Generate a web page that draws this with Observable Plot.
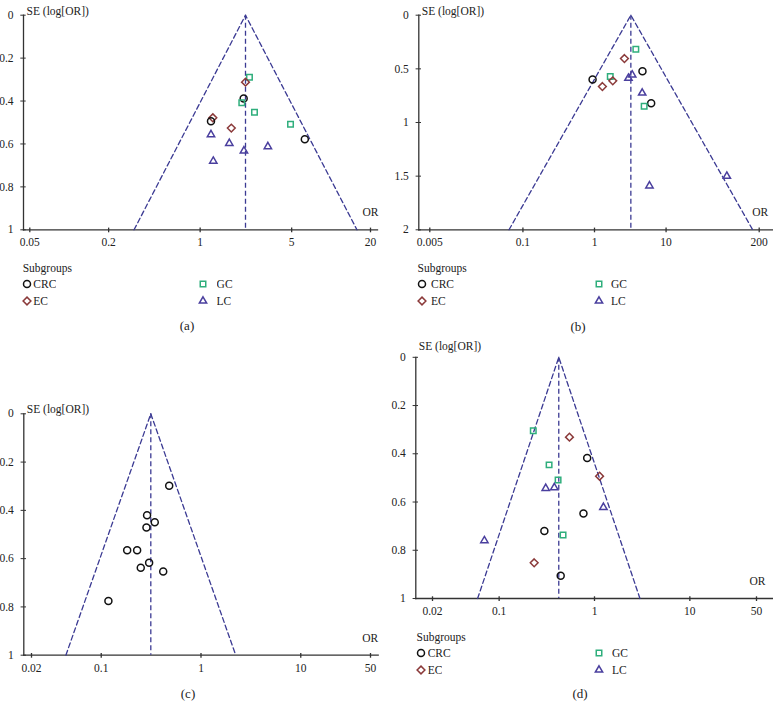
<!DOCTYPE html>
<html><head><meta charset="utf-8">
<script src="https://cdn.jsdelivr.net/npm/d3@7"></script>
<script src="https://cdn.jsdelivr.net/npm/@observablehq/plot@0.6"></script>
<style>
body{margin:0;background:#fff;}
#chart{position:relative;width:773px;height:713px;background:#fff;font-family:"Liberation Serif",serif;color:#222;overflow:hidden;}
.pos{position:absolute;}
.sub{font-size:11.5px;line-height:15px;white-space:nowrap;}
.cap{font-size:13px;line-height:15px;transform:translate(-50%,-50%);white-space:nowrap;}
.leg-swatches{font-family:"Liberation Serif",serif !important;font-size:11.5px !important;column-gap:0 !important;margin:0 !important;color:#222;}
.leg-swatch{height:17px;padding:0 !important;}
.leg-swatch > svg{margin-right:var(--m1) !important;}
.leg-swatch:nth-of-type(n+3) > svg{margin-right:var(--m2) !important;}
</style></head>
<body><div id="chart"></div>
<script>
// ---------- shared categories / styles ----------
const groups = ["CRC", "EC", "GC", "LC"];
const groupColors = ["#111111", "#8b3a3a", "#2fae7c", "#4a3f9e"];
const groupSymbols = ["circle", "diamond2", "square2", "triangle2"];
const legendTitle = "Subgroups";
const yLabelText = "SE (log[OR])";
const xLabelText = "OR";

// ---------- panel (a) ----------
const aGroup = ["GC","EC","CRC","GC","GC","EC","CRC","EC","GC","CRC","LC","LC","LC","LC","LC"];
const aOR    = [2.38, 2.22, 2.15, 2.08, 2.60, 1.25, 1.21, 1.73, 4.90, 6.30, 1.21, 1.67, 2.16, 3.29, 1.26];
const aSE    = [0.289,0.312,0.388,0.408,0.452,0.478,0.494,0.526,0.508,0.578,0.556,0.597,0.632,0.612,0.680];
const aPooled = 2.22;
const aSEMax = 1;
const aXTicks = [0.05, 0.2, 1, 5, 20];
const aXLabels = ["0.05", "0.2", "1", "5", "20"];
const aYTicks = [0, 0.2, 0.4, 0.6, 0.8, 1];
const aYLabels = ["0", "0.2", "0.4", "0.6", "0.8", "1"];

// ---------- panel (b) ----------
const bGroup = ["GC","EC","CRC","LC","LC","CRC","GC","EC","EC","LC","CRC","GC","LC","LC"];
const bOR    = [3.78, 2.62, 4.68, 3.36, 2.98, 0.94, 1.66, 1.80, 1.29, 4.64, 6.19, 4.94, 70.6, 5.86];
const bSE    = [0.317,0.404,0.522,0.556,0.587,0.600,0.571,0.612,0.665,0.725,0.820,0.848,1.50,1.59];
const bPooled = 3.22;
const bSEMax = 2;
const bXTicks = [0.005, 0.1, 1, 10, 200];
const bXLabels = ["0.005", "0.1", "1", "10", "200"];
const bYTicks = [0, 0.5, 1, 1.5, 2];
const bYLabels = ["0", "0.5", "1", "1.5", "2"];

// ---------- panel (c) ----------
const cGroup = ["CRC","CRC","CRC","CRC","CRC","CRC","CRC","CRC","CRC","CRC"];
const cOR    = [0.480, 0.288, 0.344, 0.284, 0.182, 0.229, 0.302, 0.249, 0.418, 0.118];
const cSE    = [0.298, 0.420, 0.449, 0.471, 0.565, 0.565, 0.617, 0.638, 0.653, 0.775];
const cPooled = 0.314;
const cSEMax = 1;
const cXTicks = [0.02, 0.1, 1, 10, 50];
const cXLabels = ["0.02", "0.1", "1", "10", "50"];
const cYTicks = [0, 0.2, 0.4, 0.6, 0.8, 1];
const cYLabels = ["0", "0.2", "0.4", "0.6", "0.8", "1"];

// ---------- panel (d) ----------
const dGroup = ["GC","EC","CRC","GC","EC","GC","LC","LC","LC","CRC","CRC","GC","LC","EC","CRC"];
const dOR    = [0.228, 0.546, 0.838, 0.334, 1.13, 0.415, 0.308, 0.379, 1.24, 0.766, 0.298, 0.468, 0.070, 0.233, 0.442];
const dSE    = [0.305, 0.331, 0.417, 0.446, 0.493, 0.509, 0.543, 0.540, 0.622, 0.648, 0.720, 0.737, 0.760, 0.852, 0.906];
const dPooled = 0.422;
const dSEMax = 1;
const dXTicks = [0.02, 0.1, 1, 10, 50];
const dXLabels = ["0.02", "0.1", "1", "10", "50"];
const dYTicks = [0, 0.2, 0.4, 0.6, 0.8, 1];
const dYLabels = ["0", "0.2", "0.4", "0.6", "0.8", "1"];

const captions = ["(a)", "(b)", "(c)", "(d)"];

// ---------- drawing ----------
const axisColor = "#333";
const funnelColor = "#3b3a93";
const font = "Liberation Serif, serif";

function panel(cfg) {
  const pts = cfg.or.map((v, i) => ({or: v, se: cfg.se[i], group: cfg.group[i]}));
  const funnel = [
    {or: cfg.pooled * Math.exp(-1.96 * cfg.seMax), se: cfg.seMax},
    {or: cfg.pooled, se: 0},
    {or: cfg.pooled * Math.exp(1.96 * cfg.seMax), se: cfg.seMax}
  ];
  const center = [{or: cfg.pooled, se1: 0, se2: cfg.seMax}];
  const xt = cfg.xTicks.map((v, i) => ({or: v, label: cfg.xLabels[i], se: cfg.seMax}));
  const yfmt = d => cfg.yLabels[cfg.yTicks.indexOf(d)];
  return Plot.plot({
    width: cfg.width, height: cfg.height,
    marginLeft: cfg.ml, marginRight: cfg.mr, marginTop: cfg.mt, marginBottom: cfg.mb,
    insetLeft: cfg.il, insetRight: cfg.ir,
    style: {fontFamily: font, fontSize: "11.5px", color: "#222", background: "transparent", overflow: "visible"},
    x: {type: "log", domain: cfg.xDomain, label: null, axis: null},
    y: {domain: [0, cfg.seMax], reverse: true, label: null},
    color: {domain: groups, range: groupColors},
    symbol: {domain: groups, range: groupSymbols},
    marks: [
      Plot.frame({anchor: "left", stroke: axisColor, strokeWidth: 1.3}),
      Plot.frame({anchor: "bottom", stroke: axisColor, strokeWidth: 1.3}),
      Plot.axisY({ticks: cfg.yTicks, tickSize: 5.4, dx: 2.7, tickFormat: () => "", stroke: axisColor, label: null}),
      Plot.axisY({ticks: cfg.yTicks, tickSize: 0, tickPadding: 10, tickFormat: yfmt, label: null}),
      // x-axis ticks and labels
      Plot.ruleX(xt, {x: "or", y1: "se", y2: "se", insetTop: -1.7, insetBottom: -3, stroke: axisColor, strokeWidth: 1.3}),
      Plot.text(xt, {x: "or", text: "label", frameAnchor: "bottom", lineAnchor: "top", dy: 8.5, fontSize: 11.5}),
      Plot.line(funnel, {x: "or", y: "se", stroke: funnelColor, strokeWidth: 1.3, strokeDasharray: "5,3"}),
      Plot.ruleX(center, {x: "or", y1: "se1", y2: "se2", stroke: funnelColor, strokeWidth: 1.3, strokeDasharray: "5,3"}),
      Plot.dot(pts, {x: "or", y: "se", stroke: "group", symbol: "group", r: 3.5, strokeWidth: 1.5}),
      Plot.text([yLabelText], {frameAnchor: "top-left", textAnchor: "start", dx: 3, dy: cfg.seDy, fontSize: 11.5}),
      Plot.text([xLabelText], {frameAnchor: "bottom-right", textAnchor: "end", dx: cfg.orDx, dy: -13.5, fontSize: 11.5})
    ]
  });
}

const chart = document.getElementById("chart");
function place(node, left, top) {
  node.style.position = "absolute";
  node.style.left = left + "px";
  node.style.top = top + "px";
  chart.appendChild(node);
  return node;
}
function addText(cls, text, left, top) {
  const d = document.createElement("div");
  d.className = "pos " + cls;
  d.textContent = text;
  d.style.left = left + "px";
  d.style.top = top + "px";
  chart.appendChild(d);
  return d;
}
function addLegend(plot, left, top, width, m1, m2) {
  addText("sub", legendTitle, left + 4, top);
  const leg = plot.legend("symbol", {columns: 2, width: width, swatchSize: 16, r: 3.5, strokeWidth: 1.5, className: "leg"});
  leg.style.setProperty("--m1", m1 + "px");
  leg.style.setProperty("--m2", m2 + "px");
  place(leg, left, top + 15);
}

const pA = panel({group: aGroup, or: aOR, se: aSE, pooled: aPooled, seMax: aSEMax, xDomain: [0.05, 20],
  xTicks: aXTicks, xLabels: aXLabels, yTicks: aYTicks, yLabels: aYLabels,
  width: 386, height: 252, ml: 23, mr: 9, mt: 14.7, mb: 22.7, il: 6.3, ir: 7, seDy: -8.5, orDx: 1});
place(pA, 0, 0);
const pB = panel({group: bGroup, or: bOR, se: bSE, pooled: bPooled, seMax: bSEMax, xDomain: [0.005, 200],
  xTicks: bXTicks, xLabels: bXLabels, yTicks: bYTicks, yLabels: bYLabels,
  width: 387, height: 252, ml: 32.3, mr: 0.3, mt: 14.7, mb: 22.7, il: 11, ir: 14, seDy: -8.5, orDx: -5});
place(pB, 386, 0);
const pC = panel({group: cGroup, or: cOR, se: cSE, pooled: cPooled, seMax: cSEMax, xDomain: [0.02, 50],
  xTicks: cXTicks, xLabels: cXLabels, yTicks: cYTicks, yLabels: cYLabels,
  width: 386, height: 320, ml: 23.3, mr: 8.3, mt: 53.3, mb: 25.3, il: 7.7, ir: 7.7, seDy: -9, orDx: 0});
place(pC, 0, 360);
const pD = panel({group: dGroup, or: dOR, se: dSE, pooled: dPooled, seMax: dSEMax, xDomain: [0.02, 50],
  xTicks: dXTicks, xLabels: dXLabels, yTicks: dYTicks, yLabels: dYLabels,
  width: 387, height: 290, ml: 29.3, mr: 0.3, mt: 26.8, mb: 22, il: 16.7, ir: 16.7, seDy: -15.5, orDx: -7.7});
place(pD, 386, 330);

addLegend(pA, 18.7, 260.8, 353, -1.4, 5.4);
addLegend(pB, 413.5, 260.8, 355, 1.5, 4);
addLegend(pD, 412.5, 629.5, 356, -0.8, 5.5);

addText("cap", captions[0], 187, 325);
addText("cap", captions[1], 578, 326);
addText("cap", captions[2], 188, 693);
addText("cap", captions[3], 580, 693);
</script>
</body></html>
